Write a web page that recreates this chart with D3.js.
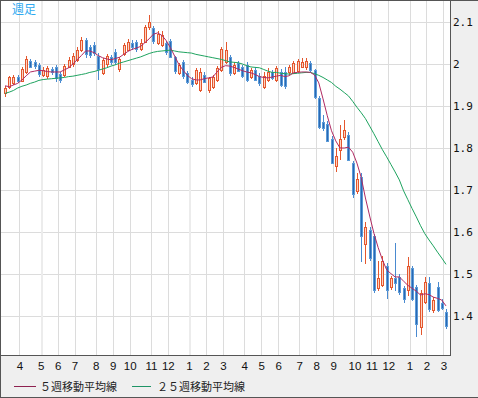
<!DOCTYPE html>
<html>
<head>
<meta charset="utf-8">
<script src="https://cdn.jsdelivr.net/npm/d3@7"></script>
<style>
  body { margin: 0; background: #efefef; }
  svg { display: block; }
</style>
</head>
<body>
<svg id="chart" width="478" height="398"></svg>
<script>
// weekly candles, oldest first (week index 0..104)
const opens = [1.932,1.945,1.955,1.968,1.960,1.982,2.008,2.004,1.998,1.974,1.970,1.988,1.992,1.976,1.974,1.994,1.998,2.010,2.032,2.056,
  2.040,2.045,2.020,1.978,2.000,2.016,2.028,1.988,2.024,2.034,2.050,2.052,2.035,2.052,2.088,2.085,2.050,2.045,2.050,2.055,
  2.016,1.980,2.004,1.978,1.962,1.956,1.940,1.974,1.938,1.945,1.962,1.986,2.005,2.016,1.979,2.002,1.992,1.998,1.970,1.986,
  1.972,1.946,1.962,1.980,1.962,1.982,1.980,1.980,1.980,1.984,1.993,1.992,2.002,1.985,1.920,1.862,1.858,1.822,1.758,1.795,
  1.826,1.832,1.765,1.698,1.730,1.572,1.605,1.590,1.466,1.475,1.520,1.468,1.490,1.494,1.467,1.462,1.514,1.468,1.375,1.432,
  1.478,1.415,1.470,1.432,1.410];
const highs = [1.947,1.972,1.975,1.973,1.994,2.020,2.012,2.010,2.002,1.992,1.996,1.994,1.998,1.982,2.000,2.016,2.026,2.040,2.064,2.063,
  2.046,2.052,2.026,2.014,2.024,2.022,2.036,2.016,2.050,2.060,2.056,2.058,2.060,2.092,2.117,2.090,2.078,2.078,2.055,2.060,
  2.020,2.002,2.010,1.984,1.968,1.990,1.990,1.980,1.970,1.975,1.995,2.040,2.052,2.022,2.004,2.008,1.998,2.004,1.990,1.992,
  1.978,1.982,1.990,1.986,1.996,1.988,1.994,1.998,2.008,2.012,2.014,2.014,2.008,1.988,1.925,1.878,1.864,1.828,1.800,1.855,
  1.866,1.838,1.770,1.740,1.740,1.625,1.612,1.596,1.530,1.542,1.526,1.495,1.573,1.500,1.472,1.540,1.520,1.475,1.462,1.492,
  1.494,1.445,1.482,1.440,1.416];
const lows = [1.921,1.940,1.950,1.954,1.956,1.976,1.990,1.988,1.970,1.968,1.964,1.974,1.958,1.955,1.970,1.990,1.994,2.005,2.028,2.015,
  2.014,2.018,1.962,1.974,1.994,1.998,1.998,1.980,2.018,2.030,2.034,2.028,2.030,2.050,2.080,2.048,2.045,2.040,2.022,2.014,
  1.976,1.974,1.964,1.952,1.946,1.950,1.934,1.955,1.932,1.940,1.958,1.980,2.000,1.972,1.974,1.980,1.966,1.958,1.964,1.960,
  1.948,1.940,1.958,1.962,1.958,1.946,1.940,1.975,1.976,1.980,1.990,1.986,1.982,1.916,1.846,1.840,1.814,1.762,1.742,1.772,
  1.818,1.768,1.680,1.690,1.528,1.525,1.530,1.454,1.460,1.468,1.440,1.462,1.460,1.450,1.430,1.448,1.436,1.350,1.355,1.428,
  1.410,1.408,1.410,1.415,1.370];
const closes = [1.944,1.968,1.970,1.958,1.988,2.012,1.994,1.995,1.976,1.986,1.990,1.980,1.966,1.962,1.996,2.010,2.018,2.033,2.057,2.022,
  2.022,2.025,1.990,2.010,2.018,2.005,2.005,2.012,2.045,2.052,2.040,2.035,2.050,2.088,2.100,2.055,2.072,2.070,2.028,2.018,
  1.982,1.998,1.970,1.956,1.952,1.986,1.982,1.958,1.966,1.970,1.990,2.036,2.033,1.978,1.998,1.982,1.970,1.962,1.986,1.962,
  1.955,1.972,1.980,1.966,1.990,1.950,1.946,1.993,2.003,2.007,2.004,2.006,1.986,1.920,1.850,1.848,1.818,1.766,1.782,1.822,
  1.842,1.772,1.690,1.726,1.590,1.612,1.538,1.462,1.490,1.532,1.462,1.490,1.478,1.458,1.442,1.518,1.440,1.380,1.455,1.480,
  1.415,1.438,1.415,1.420,1.376];

// moving averages as drawn (5 week, 25 week)
const ma5 = [1.948,1.946,1.950,1.954,1.962,1.972,1.981,1.983,1.985,1.984,1.982,1.981,1.981,1.981,1.986,1.991,2.000,2.010,2.020,2.031,
  2.031,2.027,2.020,2.015,2.012,2.010,2.013,2.016,2.023,2.030,2.035,2.038,2.042,2.051,2.060,2.071,2.074,2.068,2.056,2.039,
  2.019,1.999,1.985,1.973,1.965,1.962,1.962,1.965,1.967,1.969,1.981,1.992,1.996,1.995,1.992,1.988,1.984,1.981,1.979,1.975,
  1.970,1.968,1.967,1.969,1.971,1.973,1.970,1.972,1.979,1.980,1.981,1.981,1.980,1.974,1.955,1.917,1.877,1.841,1.817,1.800,
  1.800,1.802,1.790,1.764,1.730,1.681,1.638,1.597,1.563,1.534,1.510,1.501,1.493,1.493,1.483,1.473,1.466,1.459,1.450,1.453,
  1.451,1.445,1.442,1.438,1.424];
const ma25 = [1.930,1.933,1.937,1.943,1.947,1.950,1.954,1.957,1.961,1.963,1.964,1.965,1.966,1.967,1.968,1.970,1.971,1.973,1.975,1.977,
  1.980,1.982,1.985,1.988,1.991,1.995,1.998,2.002,2.005,2.008,2.011,2.014,2.017,2.021,2.025,2.028,2.030,2.031,2.032,2.033,
  2.031,2.029,2.028,2.027,2.026,2.023,2.021,2.019,2.017,2.015,2.013,2.011,2.008,2.005,2.004,2.003,2.000,1.996,1.993,1.992,
  1.991,1.987,1.983,1.980,1.980,1.978,1.977,1.976,1.977,1.978,1.979,1.980,1.980,1.977,1.973,1.968,1.962,1.956,1.947,1.940,
  1.932,1.924,1.911,1.897,1.884,1.870,1.852,1.834,1.815,1.796,1.779,1.761,1.743,1.724,1.698,1.677,1.656,1.636,1.615,1.596,
  1.581,1.567,1.552,1.538,1.523];

// first week of each month, and its label
const monthStarts = [4,9,13,17,22,26,30,35,39,44,48,52,57,61,65,70,74,78,83,87,91,96,100,104];
const monthLabels = ['4','5','6','7','8','9','10','11','12','1','2','3','4','5','6','7','8','9','10','11','12','1','2','3'];
const yTicks = [1.4, 1.5, 1.6, 1.7, 1.8, 1.9, 2.0, 2.1];

const W = 478, H = 398;
const plot = { left: 1, top: 1, right: 450, bottom: 355 };

const svg = d3.select('#chart');
const x = d3.scaleLinear().domain([0, 104]).range([5, 446]);
const y = d3.scaleLinear().domain([1.4, 2.1]).range([316, 22]);

svg.append('rect').attr('width', W).attr('height', H).attr('fill', '#efefef');
svg.append('rect')
  .attr('x', plot.left).attr('y', plot.top)
  .attr('width', plot.right - plot.left).attr('height', plot.bottom - plot.top)
  .attr('fill', '#fff');

// grid
const grid = svg.append('g').attr('shape-rendering', 'crispEdges');
grid.selectAll('line.h')
  .data(yTicks)
  .join('line')
  .attr('class', 'h')
  .attr('x1', plot.left).attr('x2', plot.right)
  .attr('y1', d => Math.round(y(d)) + 0.5).attr('y2', d => Math.round(y(d)) + 0.5)
  .attr('stroke', '#dcdcdc');
grid.selectAll('line.v')
  .data(monthStarts)
  .join('line')
  .attr('class', 'v')
  .attr('x1', d => Math.round(x(d - 0.6)) + 0.5).attr('x2', d => Math.round(x(d - 0.6)) + 0.5)
  .attr('y1', plot.top).attr('y2', plot.bottom)
  .attr('stroke', (d, i) => (i === 1 || i === 9) ? '#ececec' : '#dcdcdc')
  .attr('stroke-width', (d, i) => (i === 1 || i === 9) ? 2 : 1);

// candles
const idx = d3.range(closes.length);
const cx = i => Math.round(x(i));
const isUp = i => closes[i] >= opens[i];

const candles = svg.append('g').attr('shape-rendering', 'crispEdges');
candles.selectAll('line')
  .data(idx)
  .join('line')
  .attr('x1', i => cx(i) + 0.5).attr('x2', i => cx(i) + 0.5)
  .attr('y1', i => y(highs[i])).attr('y2', i => y(lows[i]))
  .attr('stroke', i => isUp(i) ? '#e4572e' : '#4a8ad0');
candles.selectAll('rect')
  .data(idx)
  .join('rect')
  .attr('x', i => cx(i) - 0.5)
  .attr('width', 2)
  .attr('y', i => Math.round(y(Math.max(opens[i], closes[i]))) + 0.5)
  .attr('height', i => Math.max(1, Math.round(Math.abs(y(opens[i]) - y(closes[i])))))
  .attr('fill', i => isUp(i) ? '#fbd3c2' : '#2a69b3')
  .attr('stroke', i => isUp(i) ? '#e4572e' : '#5a9ad8');

// moving averages
const line = d3.line().x((d, i) => x(i)).y(d => y(d));
svg.append('path').datum(ma25)
  .attr('d', line).attr('fill', 'none')
  .attr('stroke', '#1ea35f').attr('stroke-width', 1);
svg.append('path').datum(ma5)
  .attr('d', line).attr('fill', 'none')
  .attr('stroke', '#b02a62').attr('stroke-width', 1);

// frame
svg.append('path')
  .attr('d', `M0.5,${H} V0.5 H${W} M0,${H - 0.5} H${W} M${plot.right + 0.5},0 V${plot.bottom + 0.5} H0`)
  .attr('fill', 'none').attr('stroke', '#555')
  .attr('shape-rendering', 'crispEdges');

// labels
svg.append('text')
  .attr('x', 12).attr('y', 14)
  .attr('font-family', '"Noto Sans CJK JP", sans-serif')
  .attr('font-size', 12).attr('fill', '#2fa9f0')
  .text('週足');

svg.append('g').selectAll('text')
  .data(yTicks)
  .join('text')
  .attr('x', 453).attr('y', d => y(d) + 4)
  .attr('font-family', '"DejaVu Sans Mono", monospace')
  .attr('font-size', 11).attr('fill', '#111')
  .text(d => d3.format('.1~f')(d));

svg.append('g').selectAll('text')
  .data(monthStarts)
  .join('text')
  .attr('x', d => x(d - 0.6) + 0.5).attr('y', 370)
  .attr('text-anchor', 'middle')
  .attr('font-family', '"Liberation Sans", Arial, sans-serif')
  .attr('font-size', 11.5).attr('fill', '#111')
  .text((d, i) => monthLabels[i]);

// legend
const legend = [
  { label: '５週移動平均線', color: '#8e2150', x1: 14, x2: 36, tx: 40 },
  { label: '２５週移動平均線', color: '#1e9466', x1: 132, x2: 151, tx: 157 }
];
const lg = svg.append('g');
lg.selectAll('line')
  .data(legend)
  .join('line')
  .attr('x1', d => d.x1).attr('x2', d => d.x2)
  .attr('y1', 386.5).attr('y2', 386.5)
  .attr('stroke', d => d.color);
lg.selectAll('text')
  .data(legend)
  .join('text')
  .attr('x', d => d.tx).attr('y', 391)
  .attr('font-family', '"Noto Sans CJK JP", sans-serif')
  .attr('font-size', 11).attr('fill', '#222')
  .text(d => d.label);
</script>
</body>
</html>
